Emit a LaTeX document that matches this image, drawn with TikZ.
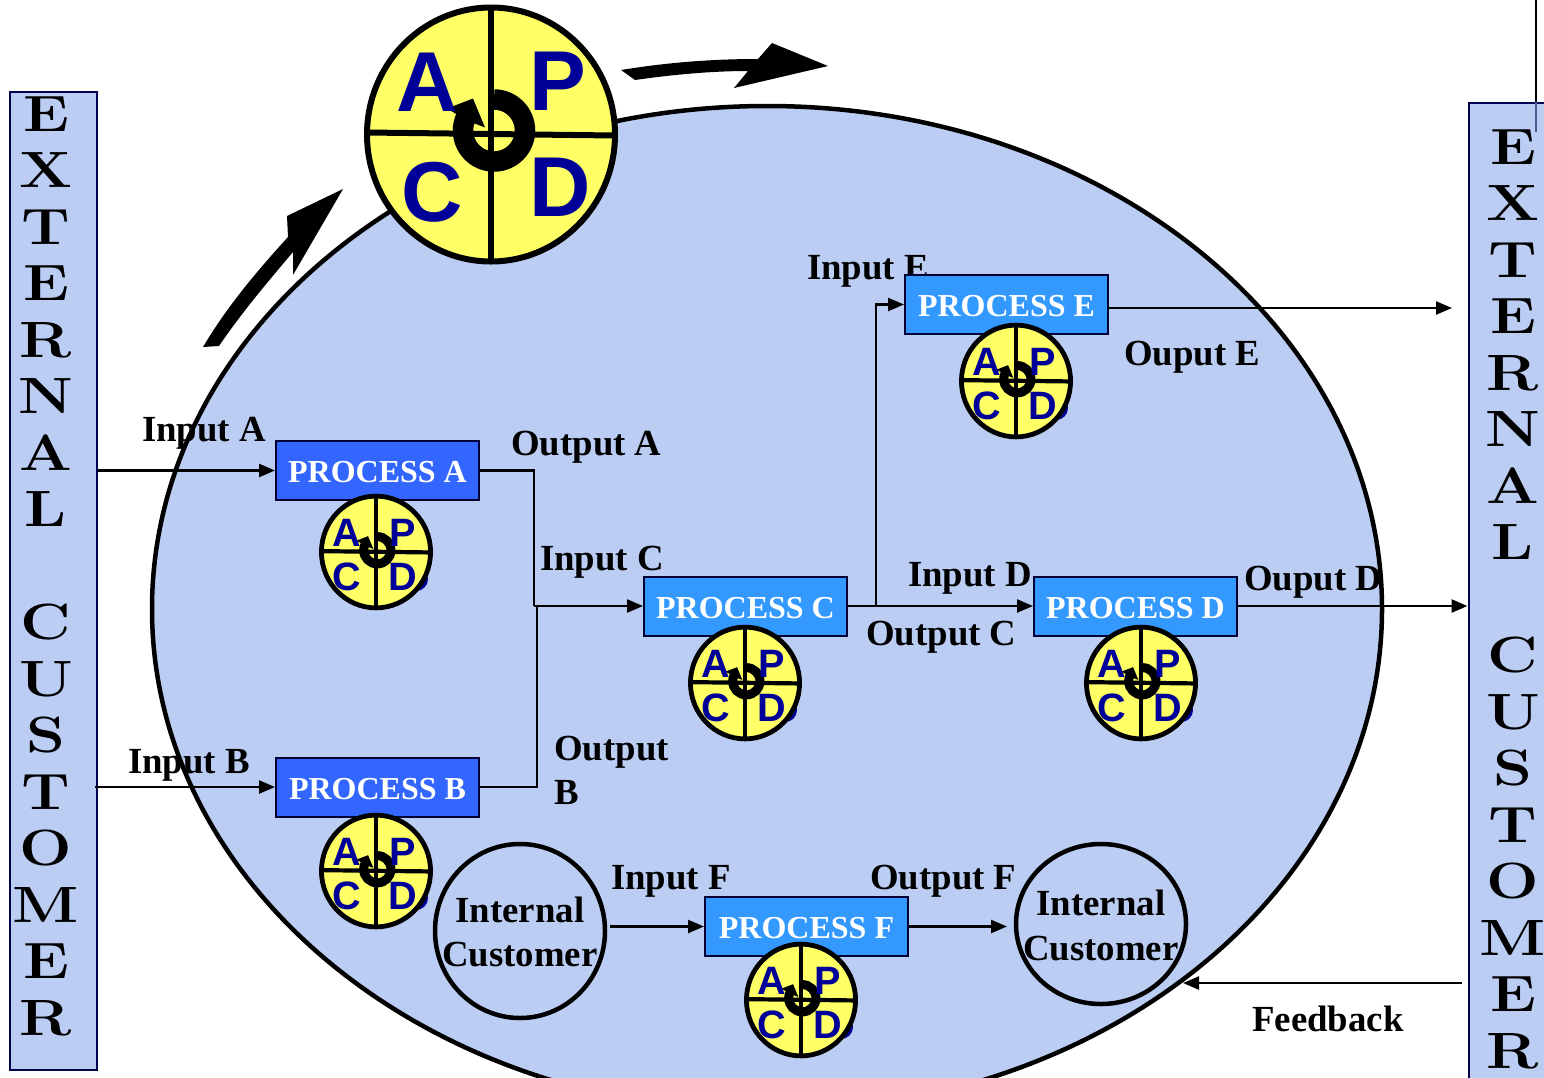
\documentclass[tikz,border=0pt]{standalone}
\usepackage{fontspec}
\newfontfamily\serifb{Liberation Serif}[BoldFont={Liberation Serif Bold}]
\newfontfamily\sansb{Liberation Sans}[BoldFont={Liberation Sans Bold}]
\usetikzlibrary{arrows.meta,calc}
\definecolor{paleblue}{HTML}{BCCDF4}
\definecolor{royal}{HTML}{3366FF}
\definecolor{sky}{HTML}{3399FF}
\definecolor{yel}{HTML}{FFFF66}
\definecolor{navy}{HTML}{000099}
\definecolor{dimline}{HTML}{4A5A90}
\tikzset{
  tri/.style={-{Triangle[length=16pt,width=13pt]},line width=2.4pt},
  wire/.style={line width=2.4pt},
  procbox/.style={draw=black!80!blue,line width=2pt,minimum width=203pt,minimum height=59pt,inner sep=0pt,text=white,text height=24pt,text depth=0pt,font=\serifb\bfseries\fontsize{32}{32}\selectfont},
  lab/.style={anchor=base west,inner sep=0pt,font=\serifb\bfseries\fontsize{36.8}{37}\selectfont},
  labc/.style={anchor=base,inner sep=0pt,font=\serifb\bfseries\fontsize{36.8}{37}\selectfont},
  bar/.style={draw=black!70!blue,line width=2pt,fill=paleblue,inner sep=0pt,anchor=north west},
  barletter/.style={anchor=base,inner sep=0pt,font=\bfseries\fontsize{51}{51}\selectfont,transform shape,xscale=1.22},
  bigarrow/.style={fill=black,draw=none},
}
\newcommand{\pdcawheel}[7]{%
  \begin{scope}[shift={(#2,#3)},scale=#4,transform shape]
    \fill[yel] (0,0) ellipse[x radius=124,y radius=127];
    \draw[line width=#5] (0,0) ellipse[x radius=124,y radius=127];
    \draw[line width=#6] (0,-127) -- (0,127);
    \draw[line width=#6] (-124,-2) -- (124,1);
    \draw[line width=20.5pt*#4] (3,-4) ++(-90:31) arc[start angle=-90,end angle=206,radius=31];
    \fill (-44,-26) -- (-18,-36) -- (-6,-7) -- (-24,-14) -- cycle;
    \node[inner sep=0pt,text=navy,font=\sansb\bfseries\fontsize{#7}{#7}\selectfont] (#1A) at (\pax,\pay) {A};
    \node[inner sep=0pt,text=navy,font=\sansb\bfseries\fontsize{#7}{#7}\selectfont] (#1P) at (\ppx,\ppy) {P};
    \node[inner sep=0pt,text=navy,font=\sansb\bfseries\fontsize{#7}{#7}\selectfont] (#1C) at (\pcx,\pcy) {C};
    \node[inner sep=0pt,text=navy,font=\sansb\bfseries\fontsize{#7}{#7}\selectfont] (#1D) at (\pdx,\pdy) {D};
  \end{scope}}
\newcommand{\smallwheel}[3]{%
  \fill[navy] ($(#2,#3)+(40,27)$) circle[radius=12];
  \def\pax{-66}\def\pay{-44}\def\ppx{60}\def\ppy{-44}\def\pcx{-66}\def\pcy{57}\def\pdx{62}\def\pdy{57}%
  \pdcawheel{#1}{#2}{#3}{0.44}{4.8pt}{4.2pt}{90}}
\begin{document}
\begin{tikzpicture}[x=1pt,y=-1pt]
\clip (0,0) rectangle (1544,1077);
\fill[white] (0,0) rectangle (1544,1077);
\draw[fill=paleblue,line width=4.5pt] (767,609) ellipse[x radius=615,y radius=503];
\node[bar,minimum width=87pt,minimum height=978pt] (leftbar) at (9,90.5) {};
\node[bar,minimum width=90pt,minimum height=1000pt] (rightbar) at (1467.5,101.5) {};
\foreach \l/\n/\y in {E/1/131,X/2/187.5,T/3/244,E/4/300.5,R/5/357,N/6/413.5,A/7/470,L/8/526.5,C/9/639,U/10/696,S/11/752.5,T/12/809,O/13/865.5,M/14/922,E/15/978.5,R/16/1035}{
  \node[barletter] (lt\n) at (46,\y) {\l};
  \node[barletter] (rt\n) at (1513,\y+33) {\l};
}
\coordinate (topend) at (1536,0);
\coordinate (topmid) at (1536,102);
\coordinate (topdown) at (1536,132);
\draw[line width=2pt] (topend) -- (topmid);
\draw[line width=2pt,dimline] (topmid) -- (topdown);
\node[lab] (lia) at (142,441) {Input A};
\node[lab] (lib) at (128,773.5) {Input B};
\node[lab] (lic) at (540,570) {Input C};
\node[lab] (lid) at (908,586) {Input D};
\node[lab] (lie) at (807,279.5) {Input E};
\node[lab] (lif) at (611,889.5) {Input F};
\node[lab] (loa) at (511,455) {Output A};
\node[lab] (lob) at (554,760) {Output};
\node[lab] (lob2) at (554,804) {B};
\node[lab] (loc) at (866,645) {Output C};
\node[lab] (lod) at (1244,590) {Ouput D};
\node[lab] (loe) at (1124,365) {Ouput E};
\node[lab] (lof) at (870,889.5) {Output F};
\node[lab] (lfb) at (1252,1031) {Feedback};
\node[procbox,fill=royal] (pa) at (377.5,470.5) {PROCESS A};
\node[procbox,fill=royal] (pb) at (377.5,787) {PROCESS B};
\node[procbox,fill=sky] (pc) at (745.5,606) {PROCESS C};
\node[procbox,fill=sky] (pd) at (1135.5,606) {PROCESS D};
\node[procbox,fill=sky] (pe) at (1006.5,304.5) {PROCESS E};
\node[procbox,fill=sky] (pf) at (806.5,926.5) {PROCESS F};
\draw[line width=4.5pt] (520,931) ellipse[x radius=85,y radius=87];
\draw[line width=4.5pt] (1101,924) ellipse[x radius=85,y radius=80];
\node[labc] (ia1) at (520,922) {Internal};
\node[labc] (ia2) at (520,966) {Customer};
\node[labc] (ib1) at (1101,915) {Internal};
\node[labc] (ib2) at (1101,960) {Customer};
\coordinate (jac) at (534,606);
\coordinate (jb) at (537,606);
\coordinate (jce) at (876,606);
\coordinate (eout) at (1452,308);
\coordinate (fbs) at (1462,983);
\coordinate (fbe) at (1183,983);
\coordinate (eoutstart) at (1108,308);
\coordinate (inb) at (95,787);
\coordinate (if1) at (610,926.5);
\coordinate (if2) at (1007,926.5);
\draw[tri] (leftbar.east |- pa.west) -- (pa.west);
\draw[tri] (inb) -- (pb.west);
\draw[wire] (pa.east) -- (jac |- pa.east) -- (jac);
\draw[wire] (pb.east) -- (jb |- pb.east) -- (jb);
\draw[tri] (jac) -- (pc.west);
\draw[tri] (pc.east) -- (pd.west);
\draw[tri] (jce) -- (jce |- pe.west) -- (pe.west);
\draw[tri] (eoutstart) -- (eout);
\draw[tri] (pd.east) -- (rightbar.west |- pd.east);
\draw[tri] (if1) -- (pf.west);
\draw[tri] (pf.east) -- (if2);
\draw[tri] (fbs) -- (fbe);
\def\pax{-64}\def\pay{-52}\def\ppx{67}\def\ppy{-53}\def\pcx{-59}\def\pcy{58}\def\pdx{69}\def\pdy{53}%
\pdcawheel{big}{491}{134.5}{1}{6pt}{6pt}{85}
\smallwheel{wa}{376}{552}
\smallwheel{wb}{376}{871}
\smallwheel{wc}{745}{683}
\smallwheel{wd}{1141}{683}
\smallwheel{we}{1016}{381}
\smallwheel{wf}{801}{1000}
\fill[bigarrow] (203,347) .. controls (228,305) and (258,270) .. (288,237) -- (287,216) -- (343,189) -- (293,275) -- (293,252) .. controls (265,285) and (240,315) .. (219,346) -- cycle;
\fill[bigarrow] (621,70) .. controls (670,62) and (715,59) .. (758,59) -- (772,43) -- (828,66) -- (734,88) -- (748,71) .. controls (710,71) and (670,75) .. (635,80) -- cycle;
\end{tikzpicture}
\end{document}
